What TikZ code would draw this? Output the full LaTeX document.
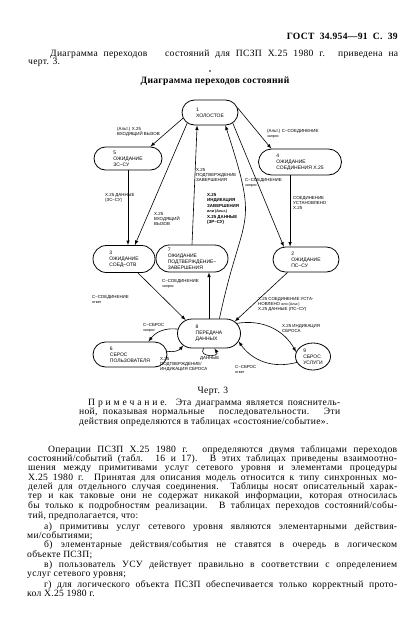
\documentclass[tikz,border=0pt]{standalone}
\usepackage{fontspec}
\setmainfont{Liberation Serif}[LetterSpace=3]
\newfontfamily\diagfont{Liberation Sans}
\usetikzlibrary{shapes.misc,shapes.geometric}
\newcommand{\jline}[2]{\makebox[#1][s]{#2}}
\newcommand{\sml}[1]{{\fontsize{3.7pt}{4.5pt}\selectfont #1}}

\begin{document}
\begin{tikzpicture}[x=1pt,y=-1pt,
    state/.style={draw=black,line width=0.8pt,rounded rectangle,inner xsep=-9pt,inner ysep=1pt,
      align=left,font=\diagfont\fontsize{5pt}{6pt}\selectfont},
    lbl/.style={anchor=north west,inner sep=0pt,align=left,font=\diagfont\fontsize{4.4pt}{5.3pt}\selectfont},
    txt/.style={anchor=base west,inner sep=0pt,font=\fontsize{9.6pt}{11pt}\selectfont},
    trans/.style={draw=black,line width=0.6pt,-latex}]
  \useasboundingbox (0,0) rectangle (419,637);
  %%% Page head
  \node[txt,anchor=base east,font=\bfseries\fontsize{9.6pt}{11pt}\selectfont] (head) at (398,39.5) {\jline{111pt}{ГОСТ 34.954—91 С. 39}};
  \node[txt] (intro1) at (50,56) {\jline{348pt}{Диаграмма переходов \ \ состояний для ПСЗП X.25 1980 г. приведена на}};
  \node[txt] (intro2) at (28,64.5) {черт. 3.};
  \path[fill=black] (210,71) circle (0.9);
  \node[txt,anchor=base,font=\bfseries\fontsize{9.6pt}{11pt}\selectfont] (title) at (215,83) {Диаграмма переходов состояний};
  %%% States
  \node[state,minimum width=38,minimum height=25] (s1) at (210,112.5) {1\\ХОЛОСТОЕ};
  \node[state,minimum width=50,minimum height=23] (s5) at (128,158.5) {5\\ОЖИДАНИЕ\\ЗС–СУ};
  \node[state,minimum width=65,minimum height=26] (s4) at (300,162) {4\\ОЖИДАНИЕ\\СОЕДИНЕНИЯ X.25};
  \node[state,minimum width=44,minimum height=27] (s3) at (124,259) {3\\ОЖИДАНИЕ\\СОЕД–ОТВ};
  \node[state,minimum width=54,minimum height=27] (s7) at (192,258.5) {7\\ОЖИДАНИЕ\\ПОДТВЕРЖДЕНИЕ–\\ЗАВЕРШЕНИЯ};
  \node[state,minimum width=48,minimum height=25] (s2) at (306,259.5) {2\\ОЖИДАНИЕ\\ПС–СУ};
  \node[state,minimum width=45,minimum height=29] (s8) at (209,333.5) {8\\ПЕРЕДАЧА\\ДАННЫХ};
  \node[state,minimum width=56,minimum height=25] (s6) at (130,354.5) {6\\СБРОС\\ПОЛЬЗОВАТЕЛЯ};
  \node[state,ellipse,inner sep=0pt,minimum width=35,minimum height=27] (s9) at (313,356.5) {9\\СБРОС\\УСЛУГИ};
  %%% Transitions
  \draw[trans] (s1.192) -- (s5.28);
  \draw[trans] (s5.south) -- (s5.south |- s3.north);
  \draw[trans] (s1.205) -- (s3.52);
  \draw[trans] (s7.north) -- (s1.225);
  \draw[trans] (s8.55) to[out=78,in=-72,looseness=1.5] (s1.320);
  \draw[trans] (s1.10) -- (s4.155);
  \draw[trans] (s1.335) -- (s2.150);
  \draw[trans] (s2.141 |- s4.south) -- (s2.141);
  \draw[trans] (s2.215) -- (s8.25);
  \draw[trans] (s3.315) -- (s8.150);
  \draw[trans] (s8.north) -- (s8.north |- s7.south);
  \draw[trans] (s8.172) to[bend right=30] (s6.35);
  \draw[trans] (s6.5) to[bend right=30] (s8.205);
  \draw[trans] (s8.250) .. controls +(-6,9) and +(6,9) .. (s8.290);
  \draw[trans] (s8.20) to[bend left=35] (s9.165);
  \draw[trans] (s9.200) to[bend left=35] (s8.345);
  %%% Transition labels
  \node[lbl] (l15) at (117,127) {(Альт.) X.25\\ВХОДЯЩИЙ ВЫЗОВ};
  \node[lbl] (l53) at (105,193) {X.25 ДАННЫЕ\\(ЗС–СУ)};
  \node[lbl] (l13) at (154,212) {X.25\\ВХОДЯЩИЙ\\ВЫЗОВ};
  \node[lbl] (l71) at (196,168) {X.25\\ПОДТВЕРЖДЕНИЕ\\ЗАВЕРШЕНИЯ};
  \node[lbl,font=\diagfont\bfseries\fontsize{4.4pt}{5.5pt}\selectfont] (l81) at (207,193) {X.25\\ИНДИКАЦИЯ\\ЗАВЕРШЕНИЯ\\\sml{или (Альт.)}\\X.25 ДАННЫЕ\\(ЗР–СУ)};
  \node[lbl] (l14) at (267,129) {(Альт.) С–СОЕДИНЕНИЕ\\\sml{запрос}};
  \node[lbl] (l12) at (245,178) {С–СОЕДИНЕНИЕ\\\sml{запрос}};
  \node[lbl] (l42) at (293,196) {СОЕДИНЕНИЕ\\УСТАНОВЛЕНО\\X.25};
  \node[lbl] (l28) at (258,297) {X.25 СОЕДИНЕНИЕ УСТА-\\НОВЛЕНО \sml{или (Альт.)}\\X.25 ДАННЫЕ (ПС–СУ)};
  \node[lbl] (l38) at (92,295) {С–СОЕДИНЕНИЕ\\\sml{ответ}};
  \node[lbl] (l87) at (162,279) {С–СОЕДИНЕНИЕ\\\sml{запрос}};
  \node[lbl] (l86) at (143,323) {С–СБРОС\\\sml{запрос}};
  \node[lbl] (l68) at (160,357) {X.25\\ПОДТВЕРЖДЕНИЕ/\\ИНДИКАЦИЯ СБРОСА};
  \node[lbl] (l88) at (200,356.5) {ДАННЫЕ};
  \node[lbl] (l89) at (282,324) {X.25 ИНДИКАЦИЯ\\СБРОСА};
  \node[lbl] (l98) at (235,365) {С–СБРОС\\\sml{ответ}};
  %%% Caption and note
  \node[txt,anchor=base] (cap) at (213,393) {Черт. 3};
  \node[txt] (note1) at (88,405) {\jline{252pt}{{\addfontfeature{LetterSpace=30}Примечание}. Эта диаграмма является пояснитель-}};
  \node[txt] (note2) at (79,414) {\jline{261pt}{ной, показывая нормальные \ \ последовательности. \ Эти}};
  \node[txt] (note3) at (79,424) {действия определяются в таблицах «состояние/событие».};
  %%% Main text
  \node[txt] (p1) at (48,452) {\jline{349pt}{Операции ПСЗП X.25 1980 г. определяются двумя таблицами переходов}};
  \node[txt] (p2) at (28,461.3) {\jline{369pt}{состояний/событий (табл. 16 и 17). В этих таблицах приведены взаимоотно-}};
  \node[txt] (p3) at (28,470.6) {\jline{369pt}{шения между примитивами услуг сетевого уровня и элементами процедуры}};
  \node[txt] (p4) at (28,480) {\jline{369pt}{X.25 1980 г. Принятая для описания модель относится к типу синхронных мо-}};
  \node[txt] (p5) at (28,489.3) {\jline{369pt}{делей для отдельного случая соединения. Таблицы носят описательный харак-}};
  \node[txt] (p6) at (28,498.7) {\jline{369pt}{тер и как таковые они не содержат никакой информации, которая относилась}};
  \node[txt] (p7) at (28,508.5) {\jline{369pt}{бы только к подробностям реализации. В таблицах переходов состояний/собы-}};
  \node[txt] (p8) at (28,518.5) {тий, предполагается, что:};
  \node[txt] (p9) at (44,529) {\jline{353pt}{а) примитивы услуг сетевого уровня являются элементарными действия-}};
  \node[txt] (p10) at (27,538) {ми/событиями;};
  \node[txt] (p11) at (44,547.5) {\jline{353pt}{б) элементарные действия/события не ставятся в очередь в логическом}};
  \node[txt] (p12) at (27,557) {объекте ПСЗП;};
  \node[txt] (p13) at (44,567) {\jline{353pt}{в) пользователь УСУ действует правильно в соответствии с определением}};
  \node[txt] (p14) at (27,576.5) {услуг сетевого уровня;};
  \node[txt] (p15) at (44,587) {\jline{353pt}{г) для логического объекта ПСЗП обеспечивается только корректный прото-}};
  \node[txt] (p16) at (27,596.5) {кол X.25 1980 г.};
\end{tikzpicture}
\end{document}
